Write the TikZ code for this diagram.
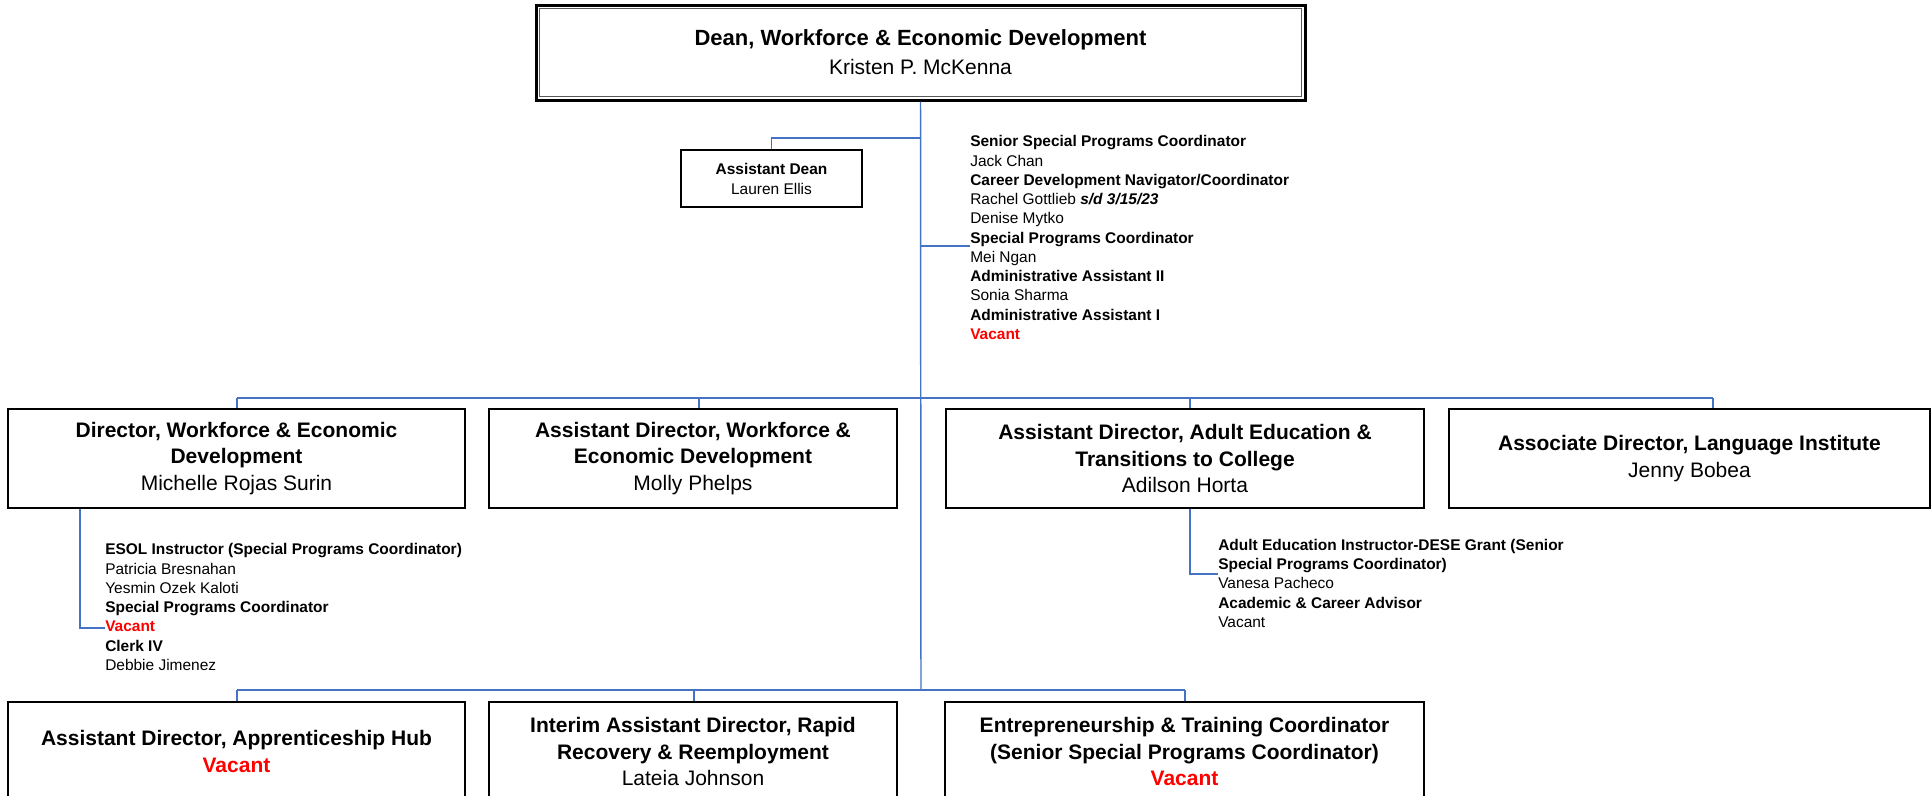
\documentclass[tikz,border=0pt]{standalone}
\usepackage{fontspec}
\setmainfont{Liberation Sans}
\definecolor{lnk}{HTML}{4472C4}
\definecolor{vac}{HTML}{FF0000}
\begin{document}
\begin{tikzpicture}[x=0.75pt,y=-0.75pt,
  box/.style={draw=black, line width=1.5pt, fill=white, align=center, inner sep=0pt,
    minimum height=74.25pt, font=\fontsize{15.75pt}{19.9pt}\selectfont},
  link/.style={draw=lnk, line width=1.1pt},
  stafftxt/.style={align=left, inner sep=0pt, anchor=base west,
    font=\fontsize{11.6pt}{14.45pt}\selectfont}]
\useasboundingbox (0,0) rectangle (1932,796);

% boxes
\node[box, line width=2.25pt, minimum width=576.75pt, minimum height=71.25pt,
  font=\fontsize{16.5pt}{21.75pt}\selectfont] (dean) at (920.5,52.5)
  {\textbf{Dean, Workforce \& Economic Development}\\{\fontsize{15.75pt}{21.75pt}\selectfont Kristen P. McKenna}};
\draw[line width=1pt, black!65] ([shift={(3.6pt,-3.6pt)}]dean.north west) rectangle ([shift={(-3.6pt,3.6pt)}]dean.south east);

\node[box, minimum width=135.75pt, minimum height=42.75pt,
  font=\fontsize{11.6pt}{15pt}\selectfont] (adean) at (771.5,178.5)
  {\textbf{Assistant Dean}\\Lauren Ellis};

\node[box, minimum width=342.75pt] (box1) at (236.5,458.5)
  {\textbf{Director, Workforce \& Economic}\\\textbf{Development}\\Michelle Rojas Surin};
\node[box, minimum width=306pt] (box2) at (693,458.5)
  {\textbf{Assistant Director, Workforce \&}\\\textbf{Economic Development}\\Molly Phelps};
\node[box, minimum width=358.5pt] (box3) at (1185,458.5)
  {\textbf{Assistant Director, Adult Education \&}\\\textbf{Transitions to College}\\Adilson Horta};
\node[box, minimum width=360.75pt] (box4) at (1689.5,458.5)
  {\textbf{Associate Director, Language Institute}\\Jenny Bobea};

\node[box, minimum width=342.75pt] (box5) at (236.5,751.5)
  {\textbf{Assistant Director, Apprenticeship Hub}\\\textcolor{vac}{\textbf{Vacant}}};
\node[box, minimum width=306pt] (box6) at (693,751.5)
  {\textbf{Interim Assistant Director, Rapid}\\\textbf{Recovery \& Reemployment}\\Lateia Johnson};
\node[box, minimum width=359.25pt] (box7) at (1184.5,751.5)
  {\textbf{Entrepreneurship \& Training Coordinator}\\\textbf{(Senior Special Programs Coordinator)}\\\textcolor{vac}{\textbf{Vacant}}};

% staff lists (base anchor = baseline of last line)
\node[stafftxt] (staff0) at (970,339.5)
  {\textbf{Senior Special Programs Coordinator}\\Jack Chan\\\textbf{Career Development Navigator/Coordinator}\\Rachel Gottlieb \textbf{\textit{s/d 3/15/23}}\\Denise Mytko\\\textbf{Special Programs Coordinator}\\Mei Ngan\\\textbf{Administrative Assistant II}\\Sonia Sharma\\\textbf{Administrative Assistant I}\\\textcolor{vac}{\textbf{Vacant}}};
\node[stafftxt] (staff1) at (105,670.5)
  {\textbf{ESOL Instructor (Special Programs Coordinator)}\\Patricia Bresnahan\\Yesmin Ozek Kaloti\\\textbf{Special Programs Coordinator}\\\textcolor{vac}{\textbf{Vacant}}\\\textbf{Clerk IV}\\Debbie Jimenez};
\node[stafftxt] (staff3) at (1218,627.5)
  {\textbf{Adult Education Instructor-DESE Grant (Senior}\\\textbf{Special Programs Coordinator)}\\Vanesa Pacheco\\\textbf{Academic \& Career Advisor}\\Vacant};

% connectors
\coordinate (trunkbot) at (921,690);
\draw[link] (dean.south) -- (trunkbot);
\coordinate (adj) at (921,138);
\draw[link] (adj) -| (adean.north);
\coordinate (stj) at (921,246);
\coordinate (sth) at (970,246);
\draw[link] (stj) -- (sth);

\coordinate (b2l) at (237,398);
\coordinate (b2r) at (1713,398);
\coordinate (d2) at (699,398);
\coordinate (d3) at (1190,398);
\draw[link] (b2l) -- (b2r);
\draw[link] (b2l) -- (b2l |- box1.north);
\draw[link] (d2) -- (d2 |- box2.north);
\draw[link] (d3) -- (d3 |- box3.north);
\draw[link] (b2r) -- (b2r |- box4.north);

\coordinate (s1c) at (80,0);
\coordinate (s1h) at (105,628);
\draw[link] (s1c |- box1.south) |- (s1h);
\coordinate (s3c) at (1190,0);
\coordinate (s3h) at (1218,574);
\draw[link] (s3c |- box3.south) |- (s3h);

\coordinate (b3l) at (237,690);
\coordinate (b3r) at (1185,690);
\coordinate (d6) at (694,690);
\draw[link] (b3l) -- (b3r);
\draw[link] (b3l) -- (b3l |- box5.north);
\draw[link] (d6) -- (d6 |- box6.north);
\draw[link] (b3r) -- (b3r |- box7.north);
\end{tikzpicture}
\end{document}
